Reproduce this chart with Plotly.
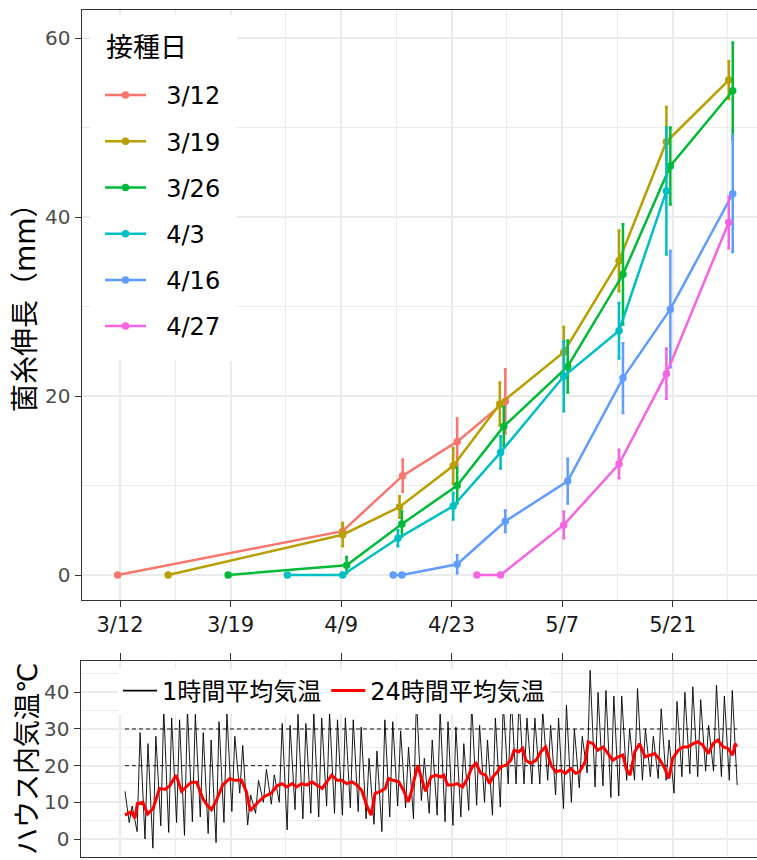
import plotly.graph_objects as go

# ---------------- 菌糸伸長 (days after 3/12, mean length mm, SD) ----------------
inoc_labels = ["3/12", "3/19", "3/26", "4/3", "4/16", "4/27"]
inoc_colors = ["#F8766D", "#B79F00", "#00BA38", "#00BFC4", "#619CFF", "#F564E3"]

day_0312 = [-0.3, 28.2, 35.8, 42.7, 48.8]
len_0312 = [0, 4.9, 11.1, 14.9, 19.4]
sd_0312 = [0, 0.6, 1.8, 2.6, 3.6]

day_0319 = [6.1, 28.2, 35.4, 42.2, 48.1, 56.2, 63.2, 69.2, 77.1]
len_0319 = [0, 4.5, 7.6, 12.2, 19.1, 24.9, 35.1, 48.4, 55.3]
sd_0319 = [0, 1.3, 1.2, 2.0, 2.4, 2.8, 3.4, 3.9, 2.1]

day_0326 = [13.7, 28.7, 35.7, 42.7, 48.6, 56.7, 63.7, 69.7, 77.6]
len_0326 = [0, 1.1, 5.7, 10.0, 16.6, 23.3, 33.6, 45.7, 54.1]
sd_0326 = [0, 0.9, 1.4, 2.0, 2.2, 2.9, 5.6, 4.3, 5.4]

day_0403 = [21.2, 28.2, 35.2, 42.2, 48.2, 56.2, 63.2, 69.2]
len_0403 = [0, 0, 4.1, 7.7, 13.7, 22.2, 27.3, 42.9]
sd_0403 = [0, 0, 0.9, 1.5, 1.8, 3.9, 3.1, 7.1]

day_0416 = [34.6, 35.7, 42.7, 48.8, 56.7, 63.7, 69.7, 77.6]
len_0416 = [0, 0, 1.2, 6.0, 10.5, 22.0, 29.7, 42.6]
sd_0416 = [0, 0, 1.0, 1.2, 2.5, 3.9, 6.5, 6.5]

day_0427 = [45.2, 48.2, 56.2, 63.2, 69.2, 77.1]
len_0427 = [0, 0, 5.6, 12.4, 22.5, 39.4]
sd_0427 = [0, 0, 1.5, 1.6, 2.8, 2.9]

# x-axis ticks (days after 3/12) and their labels
tick_days = [0, 14, 28, 42, 56, 70]
tick_text = ["3/12", "3/19", "4/9", "4/23", "5/7", "5/21"]
minor_days = [7, 21, 35, 49, 63, 77]

# ---------------- ハウス内気温 ----------------
# first reading (3/12 afternoon), then daily minimum (early morning) and maximum (midday)
temp_first_day = 0.63
temp_first_val = 13.0
temp_min = [4.5, 2, 0, -2.5, 3.6, 1.8, 4.5, 1, 4.7, 6, 1.5, -1, 4.5, 7.5, 12.5, 3.8,
            7, 10, 9.5, 10, 2.5, 8, 5.5, 7, 6, 9, 7, 6.5, 8.5, 7.5, 5.5, 4, 2, 6, 9,
            8.5, 5.5, 10.5, 7, 6.5, 4.7, 3.7, 6, 7.8, 9.2, 10, 6.5, 8.7, 15, 15, 15,
            15, 15, 16, 12, 8.3, 10, 14, 18, 14.2, 14.5, 11.3, 11.7, 16, 16, 16, 17,
            16.5, 16, 12.5, 17, 17.8, 17, 18.5, 18.5, 17, 16, 14.7]
temp_max = [9, 29, 26, 28, 35.5, 33, 32.5, 35.5, 34, 29, 27, 32, 34.5, 28, 25.5, 12,
            16, 19, 17.5, 31.5, 31, 34, 31.5, 34.5, 33, 34.5, 32.5, 33, 32.5, 30.5,
            22, 24, 32.5, 32, 29.5, 25, 38.5, 22, 27, 35, 32, 30.5, 26, 37, 31, 27,
            33, 37, 39, 38.5, 33, 33, 35, 31, 33, 36.5, 30, 28, 46, 40, 40.5, 39, 39,
            30, 41, 30, 28, 35.5, 27, 37.5, 40, 41.5, 38, 31, 42, 39, 40.5]
MIN_HOUR, MAX_HOUR = 4, 13

# 24-hour running mean
mean24_day = [0.63, 1.0, 1.4, 1.9, 2.2, 2.9, 3.5, 4.2, 5.0, 5.7, 6.3, 7.1, 7.8, 8.6,
              9.1, 9.7, 10.5, 11.0, 11.6, 12.2, 13.0, 13.9, 14.5, 15.4, 16.0, 16.5,
              17.5, 18.3, 19.2, 19.9, 20.5, 21.1, 21.8, 22.4, 23.0, 23.7, 24.3, 24.9,
              25.6, 26.2, 26.8, 27.5, 28.1, 28.7, 29.4, 30.0, 30.6, 31.3, 31.8, 32.3,
              32.9, 33.6, 34.0, 34.6, 35.3, 35.9, 36.5, 36.9, 37.7, 38.2, 38.7, 39.4,
              40.0, 40.6, 41.0, 41.5, 42.1, 42.7, 43.4, 44.0, 44.6, 45.1, 45.7, 46.3,
              46.8, 47.2, 47.8, 48.2, 48.9, 49.5, 49.9, 50.5, 51.0, 51.4, 52.0, 52.7,
              53.3, 53.9, 54.6, 55.2, 55.8, 56.4, 57.1, 57.7, 58.2, 58.9, 59.3, 59.9,
              60.5, 61.2, 61.8, 62.4, 63.1, 63.7, 64.1, 64.6, 65.2, 65.8, 66.5, 67.1,
              67.7, 68.4, 69.0, 69.5, 70.0, 70.7, 71.3, 71.9, 72.6, 73.2, 73.8, 74.5,
              75.1, 75.7, 76.4, 77.0, 77.6, 77.9, 78.1]
mean24_val = [6.5, 7.0, 7.4, 5.7, 9.7, 10.0, 6.8, 8.3, 13.8, 13.5, 14.5, 17.4, 13.0,
              14.7, 15.5, 15.5, 11.0, 9.3, 8.0, 10.5, 14.7, 16.5, 16.0, 16.0, 12.9, 7.7,
              10.1, 11.6, 12.6, 14.5, 15.1, 14.2, 15.1, 14.2, 15.1, 14.7, 15.6, 14.7,
              13.8, 15.6, 17.4, 16.0, 16.0, 15.1, 15.6, 14.7, 13.3, 8.8, 6.5, 12.4,
              12.9, 13.8, 16.5, 16.0, 15.6, 13.3, 10.1, 12.9, 20.1, 16.5, 13.0, 16.9,
              17.4, 16.9, 17.4, 14.7, 14.7, 15.1, 14.2, 16.5, 19.7, 20.6, 17.9, 17.4,
              15.1, 16.9, 18.3, 19.7, 20.1, 21.5, 24.2, 23.8, 24.7, 21.5, 20.6, 21.5,
              23.8, 25.1, 20.1, 18.3, 18.7, 17.9, 19.2, 17.9, 18.3, 21.0, 26.5, 26.0,
              24.2, 25.1, 23.3, 21.5, 22.4, 22.9, 19.2, 17.4, 23.8, 26.0, 22.4, 22.9,
              23.3, 21.5, 19.2, 16.5, 22.0, 24.2, 25.1, 25.1, 26.0, 26.5, 25.6, 23.3,
              26.0, 27.0, 25.1, 24.7, 22.9, 26.0, 25.1]
guide_levels = [20, 30]

# ---------------- layout geometry (pixels) ----------------
W, H = 757, 860
PX_PER_DAY = 7.896
DAY0_PX = 120.0
TOP_PANEL = dict(left=81.7, top=10.0, bottom=600.0)
BOT_PANEL = dict(left=80.7, top=660.7, bottom=856.7)
FONT = "DejaVu Sans, Noto Sans CJK JP, sans-serif"
GRID = "#EBEBEB"
AXIS = "#333333"
NBSP = "\u00a0"


def day_at(px):
    return (px - DAY0_PX) / PX_PER_DAY


def fy(py):
    return 1 - py / H


fig = go.Figure()

series = [
    (day_0312, len_0312, sd_0312),
    (day_0319, len_0319, sd_0319),
    (day_0326, len_0326, sd_0326),
    (day_0403, len_0403, sd_0403),
    (day_0416, len_0416, sd_0416),
    (day_0427, len_0427, sd_0427),
]
for label, color, (dx, ly, sd) in zip(inoc_labels, inoc_colors, series):
    fig.add_trace(go.Scatter(
        x=dx, y=ly, mode="lines+markers", name=NBSP * 2 + label, legendgroup=label,
        line=dict(color=color, width=2.5),
        marker=dict(color=color, size=7.5),
        error_y=dict(type="data", array=sd, color=color, thickness=2.5, width=1.5),
        xaxis="x", yaxis="y", legend="legend",
    ))

# hourly temperature trace
t_hour, v_hour = [temp_first_day], [temp_first_val]
for i, tmin in enumerate(temp_min):
    d = i + 1
    t_hour.append(d + MIN_HOUR / 24)
    v_hour.append(tmin)
    if i < len(temp_max):
        t_hour.append(d + MAX_HOUR / 24)
        v_hour.append(temp_max[i])

for lvl in guide_levels:
    fig.add_trace(go.Scatter(
        x=[t_hour[0], t_hour[-1]], y=[lvl, lvl], mode="lines",
        line=dict(color="black", width=0.9, dash="4px,3px"),
        showlegend=False, hoverinfo="skip", xaxis="x2", yaxis="y2",
    ))

fig.add_trace(go.Scatter(
    x=t_hour, y=v_hour, mode="lines", line=dict(color="black", width=0.9),
    showlegend=False, xaxis="x2", yaxis="y2",
))
fig.add_trace(go.Scatter(
    x=mean24_day, y=mean24_val, mode="lines", line=dict(color="#FF0000", width=3),
    showlegend=False, xaxis="x2", yaxis="y2",
))
# legend entries for the temperature panel
fig.add_trace(go.Scatter(
    x=[None], y=[None], mode="lines", name="1時間平均気温",
    line=dict(color="black", width=1.8), xaxis="x2", yaxis="y2", legend="legend2",
))
fig.add_trace(go.Scatter(
    x=[None], y=[None], mode="lines", name="24時間平均気温",
    line=dict(color="#FF0000", width=3), xaxis="x2", yaxis="y2", legend="legend2",
))

x_right = day_at(W)


def x_axis_style(ticklen):
    return dict(
        tickvals=tick_days, showgrid=True, gridcolor=GRID, gridwidth=1.6,
        zeroline=False, showline=True, linecolor=AXIS, linewidth=1.4, mirror=True,
        ticks="outside", ticklen=ticklen, tickwidth=1.4, tickcolor=AXIS,
        minor=dict(tickvals=minor_days, showgrid=True, gridcolor=GRID, gridwidth=0.9, ticks=""),
    )


fig.update_layout(
    width=W, height=H, margin=dict(l=0, r=0, t=0, b=0),
    paper_bgcolor="white", plot_bgcolor="white",
    font=dict(family=FONT, color="black"),
    xaxis=dict(
        **x_axis_style(6),
        domain=[TOP_PANEL["left"] / W, 1],
        range=[day_at(TOP_PANEL["left"]), x_right],
        ticktext=tick_text, tickfont=dict(size=21, color="#1A1A1A"),
        anchor="y",
    ),
    yaxis=dict(
        domain=[fy(TOP_PANEL["bottom"]), fy(TOP_PANEL["top"])],
        range=[(575.0 - TOP_PANEL["bottom"]) / 8.95, (575.0 - TOP_PANEL["top"]) / 8.95],
        tickvals=[0, 20, 40, 60], tickfont=dict(size=20, color="#4D4D4D"),
        showgrid=True, gridcolor=GRID, gridwidth=1.6, zeroline=False,
        showline=True, linecolor=AXIS, linewidth=1.4, mirror=False,
        ticks="outside", ticklen=6, tickwidth=1.4, tickcolor=AXIS,
        minor=dict(tickvals=[10, 30, 50], showgrid=True, gridcolor=GRID, gridwidth=0.9, ticks=""),
        anchor="x",
    ),
    xaxis2=dict(
        **x_axis_style(7),
        domain=[BOT_PANEL["left"] / W, 1],
        range=[day_at(BOT_PANEL["left"]), x_right],
        side="top", showticklabels=False,
        anchor="y2",
    ),
    yaxis2=dict(
        domain=[fy(BOT_PANEL["bottom"]), fy(BOT_PANEL["top"])],
        range=[-(BOT_PANEL["bottom"] - 839.0) / 3.6675, (839.0 - BOT_PANEL["top"]) / 3.6675],
        tickvals=[0, 10, 20, 30, 40], tickfont=dict(size=20, color="#4D4D4D"),
        showgrid=True, gridcolor=GRID, gridwidth=1.6, zeroline=False,
        showline=True, linecolor=AXIS, linewidth=1.4, mirror=False,
        ticks="outside", ticklen=6, tickwidth=1.4, tickcolor=AXIS,
        minor=dict(tickvals=[5, 15, 25, 35, 45], showgrid=True, gridcolor=GRID, gridwidth=0.9, ticks=""),
        anchor="x2",
    ),
    legend=dict(
        x=100 / W, y=fy(73), xanchor="left", yanchor="top",
        bgcolor="rgba(0,0,0,0)", borderwidth=0,
        font=dict(size=24, family=FONT, color="black"),
        tracegroupgap=12, itemwidth=41,
    ),
    legend2=dict(
        x=118 / W, y=fy(691), xanchor="left", yanchor="middle",
        orientation="h", bgcolor="white", borderwidth=0,
        font=dict(size=24, family=FONT, color="black"),
        itemwidth=34,
    ),
    showlegend=True,
)

# white backing for the legend block
fig.add_shape(
    type="rect", xref="paper", yref="paper", layer="above",
    x0=90 / W, x1=237 / W, y0=fy(361), y1=fy(15),
    fillcolor="white", line=dict(width=0),
)

# legend heading and axis titles
fig.add_annotation(
    text="接種日", showarrow=False, xref="paper", yref="paper",
    x=104 / W, y=fy(47), xanchor="left", yanchor="middle",
    font=dict(size=27, family=FONT, color="black"),
)
fig.add_annotation(
    text="菌糸伸長（mm）", textangle=-90, showarrow=False,
    xref="paper", yref="paper", x=25 / W, y=fy(301), xanchor="center", yanchor="middle",
    font=dict(size=28, family=FONT, color="black"),
)
fig.add_annotation(
    text="ハウス内気温℃", textangle=-90, showarrow=False,
    xref="paper", yref="paper", x=27 / W, y=fy(759), xanchor="center", yanchor="middle",
    font=dict(size=27, family=FONT, color="black"),
)

fig.write_html("out.html")
